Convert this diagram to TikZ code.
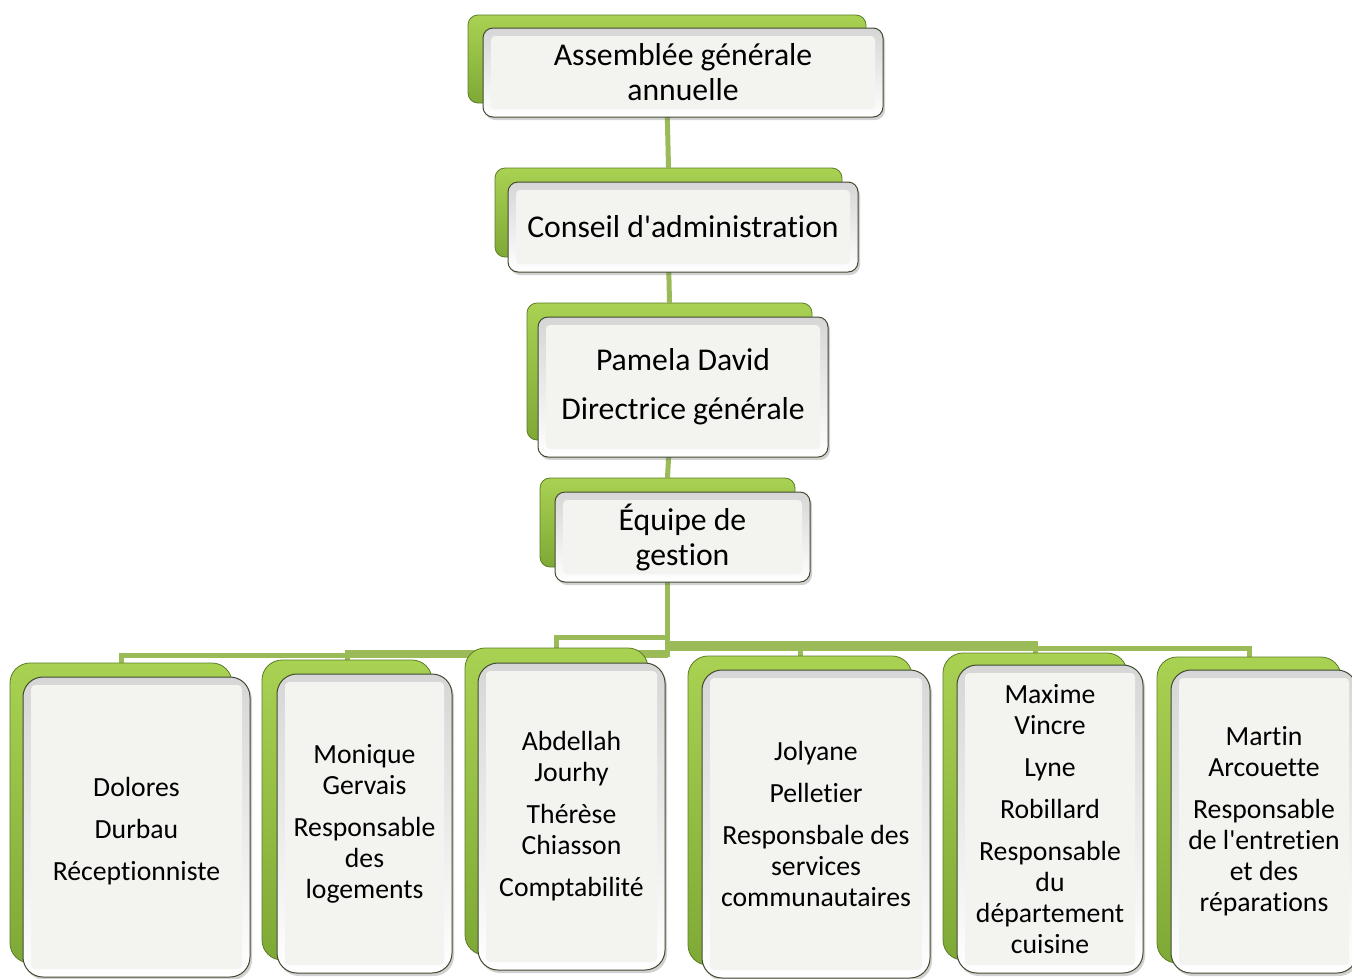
\documentclass[tikz,border=0pt]{standalone}
\usepackage{fontspec}
\setmainfont{Carlito}[Ligatures={TeXOff,NoCommon}]
\usetikzlibrary{shadows}

\definecolor{linkgreen}{HTML}{9BBB59}
\definecolor{leafhi}{HTML}{A9D152}
\definecolor{leaflo}{HTML}{7FA936}
\definecolor{leafedge}{HTML}{5C7D28}
\definecolor{cardedge}{HTML}{404A30}
\definecolor{cardface}{HTML}{F3F4EF}

\pgfdeclarelayer{background}
\pgfsetlayers{background,main}

\tikzset{
  conn/.style={draw=linkgreen, line width=5pt},
  backcard/.style={rounded corners=#1, draw=leafedge, line width=0.8pt,
    top color=leafhi, bottom color=leaflo, inner sep=0pt},
  backcard/.default=10pt,
  frontcard/.style={rounded corners=#1, draw=cardedge, line width=1pt,
    top color=black!16, bottom color=white, inner sep=0pt, align=center,
    drop shadow={shadow xshift=2pt, shadow yshift=-3pt, opacity=0.3, fill=black!60},
    path picture={\fill[cardface, rounded corners=4pt]
      ([shift={(8,8)}]path picture bounding box.north west) rectangle
      ([shift={(-8,-8)}]path picture bounding box.south east);}},
  frontcard/.default=10pt,
  topfont/.style={font=\fontsize{31.7}{35}\selectfont},
  lowfont/.style={font=\fontsize{27.7}{31}\selectfont},
}

\begin{document}
\begin{tikzpicture}[x=1pt, y=-1pt]
\useasboundingbox (0,0) rectangle (1352,978);
\clip (0,0) rectangle (1352,978);

% upper chain
\node[backcard, minimum width=398pt, minimum height=88pt] (b1) at (667,59) {};
\node[frontcard, topfont, minimum width=400pt, minimum height=89pt] (f1) at (683,72.5)
  {Assemblée générale\\annuelle};

\node[backcard, minimum width=347pt, minimum height=89pt] (b2) at (668.5,212.5) {};
\node[frontcard, topfont, minimum width=350pt, minimum height=90pt] (f2) at (683,227)
  {Conseil d'administration};

\node[backcard, minimum width=285pt, minimum height=137pt] (b3) at (669.5,371.5) {};
\node[frontcard, topfont, minimum width=290pt, minimum height=140pt] (f3) at (683,387)
  {Pamela David\\[14pt]Directrice générale};

\node[backcard, minimum width=255pt, minimum height=89pt] (b4) at (667.5,522.5) {};
\node[frontcard, topfont, minimum width=255pt, minimum height=90pt] (f4) at (682.5,537)
  {Équipe de\\gestion};

% staff row
\node[backcard=20pt, minimum width=222pt, minimum height=300pt] (d1) at (121,813) {};
\node[frontcard=20pt, lowfont, minimum width=227pt, minimum height=300pt] (e1) at (136.5,827)
  {\rule{0pt}{28pt}Dolores\\[11pt]Durbau\\[11pt]Réceptionniste};

\node[backcard=20pt, minimum width=170pt, minimum height=300pt] (d2) at (347,810) {};
\node[frontcard=20pt, lowfont, minimum width=175pt, minimum height=299pt] (e2) at (364.5,823.5)
  {Monique\\Gervais\\[11pt]Responsable\\des\\logements};

\node[backcard=20pt, minimum width=183pt, minimum height=307pt] (d3) at (556.5,801.5) {};
\node[frontcard=20pt, lowfont, minimum width=187pt, minimum height=307pt] (e3) at (571.5,816.5)
  {Abdellah\\Jourhy\\[11pt]Thérèse\\Chiasson\\[11pt]Comptabilité};

\node[backcard=20pt, minimum width=224pt, minimum height=309pt] (d4) at (800,810.5) {};
\node[frontcard=20pt, lowfont, minimum width=228pt, minimum height=308pt] (e4) at (816,824)
  {Jolyane\\[11pt]Pelletier\\[11pt]Responsbale des\\services\\communautaires};

\node[backcard=20pt, minimum width=184pt, minimum height=307pt] (d5) at (1035,806.5) {};
\node[frontcard=20pt, lowfont, minimum width=186pt, minimum height=308pt] (e5) at (1050,819)
  {Maxime\\Vincre\\[11pt]Lyne\\[11pt]Robillard\\[11pt]Responsable\\du\\département\\cuisine};

\node[backcard=20pt, minimum width=184pt, minimum height=306pt] (d6) at (1249,810) {};
\node[frontcard=20pt, lowfont, minimum width=186pt, minimum height=303pt] (e6) at (1264,821.5)
  {Martin\\Arcouette\\[11pt]Responsable\\de l'entretien\\et des\\réparations};

% branch points on the trunk below the management team
\coordinate (h1) at (667.5,655);
\coordinate (h2) at (667.5,652);
\coordinate (h3) at (667.5,637);
\coordinate (h4) at (667.5,646);
\coordinate (h5) at (667.5,643);
\coordinate (h6) at (667.5,648);
\coordinate (hend) at (667.5,657);

\begin{pgfonlayer}{background}
  \draw[conn] (b1.south) -- (b2.north);
  \draw[conn] (b2.south) -- (b3.north);
  \draw[conn] (b3.south) -- (b4.north);
  \draw[conn] (b4.south) -- (hend);
  \draw[conn] (h1) -| (d1.north);
  \draw[conn] (h2) -| (d2.north);
  \draw[conn] (h3) -| (d3.north);
  \draw[conn] (h4) -| (d4.north);
  \draw[conn] (h5) -| (d5.north);
  \draw[conn] (h6) -| (d6.north);
\end{pgfonlayer}
\end{tikzpicture}
\end{document}
